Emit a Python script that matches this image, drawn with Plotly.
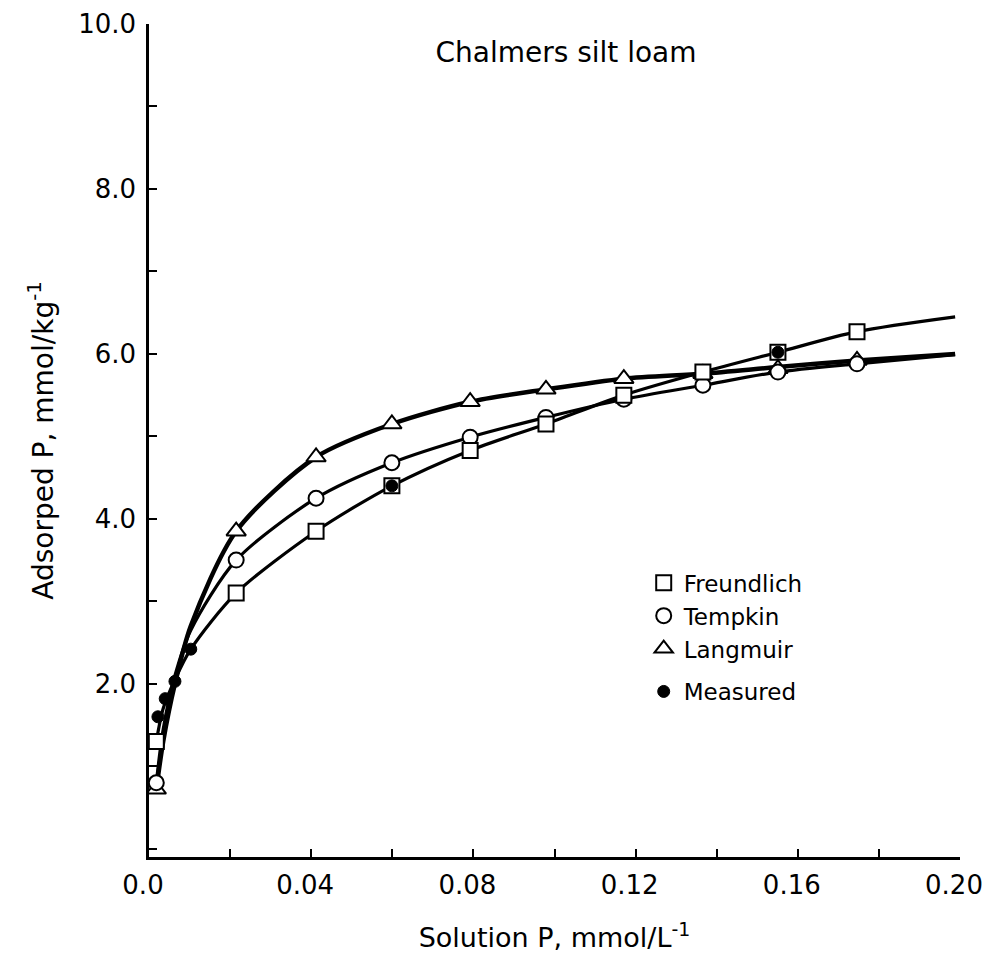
import plotly.graph_objects as go

# ---- data ----
model_x = [0.0018, 0.0215, 0.0412, 0.0599, 0.0792, 0.0979, 0.1171, 0.1366, 0.1551, 0.1746]
freundlich_y = [1.30, 3.10, 3.85, 4.40, 4.83, 5.15, 5.50, 5.78, 6.02, 6.27]
tempkin_y = [0.80, 3.50, 4.25, 4.68, 4.99, 5.23, 5.45, 5.62, 5.78, 5.88]
langmuir_y = [0.72, 3.85, 4.75, 5.15, 5.42, 5.57, 5.70, 5.76, 5.82, 5.92]

curve_x = [0.0018, 0.0035, 0.0064, 0.0103, 0.0215, 0.0412, 0.0599, 0.0792, 0.0979,
           0.1171, 0.1366, 0.1551, 0.1746, 0.1988]
freundlich_curve = [1.30, 1.70, 2.05, 2.42, 3.10, 3.85, 4.40, 4.83, 5.15, 5.50, 5.78, 6.02, 6.27, 6.45]
tempkin_curve = [0.80, 1.45, 2.10, 2.65, 3.50, 4.25, 4.68, 4.99, 5.23, 5.45, 5.62, 5.78, 5.88, 5.99]
langmuir_curve = [0.72, 1.30, 2.00, 2.70, 3.85, 4.75, 5.15, 5.42, 5.57, 5.70, 5.76, 5.84, 5.92, 6.00]

measured_x = [0.0022, 0.0040, 0.0064, 0.0103, 0.0599, 0.1551]
measured_y = [1.60, 1.82, 2.03, 2.42, 4.40, 6.02]

x_tick_vals = [0.0, 0.04, 0.08, 0.12, 0.16, 0.20]
x_tick_text = ["0.0", "0.04", "0.08", "0.12", "0.16", "0.20"]
y_tick_vals = [2, 4, 6, 8, 10]
y_tick_text = ["2.0", "4.0", "6.0", "8.0", "10.0"]

FONT = "DejaVu Sans"

fig = go.Figure()

# curves (no legend)
for cy, w in [(langmuir_curve, 4.5), (tempkin_curve, 3.2), (freundlich_curve, 3.2)]:
    fig.add_trace(go.Scatter(x=curve_x, y=cy, mode="lines",
                             line=dict(color="black", width=w, shape="spline", smoothing=0.8),
                             showlegend=False, hoverinfo="skip"))

marker_line = dict(color="black", width=2)
fig.add_trace(go.Scatter(x=model_x, y=langmuir_y, mode="markers", name="Langmuir",
                         marker=dict(symbol="triangle-up", size=17, color="white", line=marker_line),
                         legendgroup="models", legendrank=3))
fig.add_trace(go.Scatter(x=model_x, y=tempkin_y, mode="markers", name="Tempkin",
                         marker=dict(symbol="circle", size=15, color="white", line=marker_line),
                         legendgroup="models", legendrank=2))
fig.add_trace(go.Scatter(x=model_x, y=freundlich_y, mode="markers", name="Freundlich",
                         marker=dict(symbol="square", size=15, color="white", line=marker_line),
                         legendgroup="models", legendrank=1))
fig.add_trace(go.Scatter(x=measured_x, y=measured_y, mode="markers", name="Measured",
                         marker=dict(symbol="circle", size=12, color="black", line=dict(color="black", width=1)),
                         legendgroup="measured", legendrank=4))

axis_common = dict(showline=True, linecolor="black", linewidth=2.5, showgrid=False, zeroline=False,
                   ticks="inside", ticklen=8, tickwidth=2, tickcolor="black",
                   tickfont=dict(family=FONT, size=26, color="black"))

fig.update_xaxes(range=[0, 0.20], tickvals=x_tick_vals, ticktext=x_tick_text,
                 minor=dict(dtick=0.02, tick0=0, ticks="inside", ticklen=8, tickwidth=2, tickcolor="black"),
                 ticklabelstandoff=3, ticklabelshift=-6, ticklabeloverflow="allow",
                 title=dict(text="Solution P, mmol/L<sup>-1</sup>", font=dict(family=FONT, size=27, color="black"),
                            standoff=30),
                 **axis_common)
fig.update_yaxes(range=[-0.1, 10.0], tickvals=y_tick_vals, ticktext=y_tick_text,
                 minor=dict(dtick=1, tick0=0, ticks="inside", ticklen=8, tickwidth=2, tickcolor="black"),
                 ticklabelstandoff=5,
                 title=dict(text="Adsorped P, mmol/kg<sup>-1</sup>", font=dict(family=FONT, size=28, color="black"),
                            standoff=17),
                 **axis_common)

fig.update_layout(
    width=985, height=960,
    margin=dict(l=141, r=33, t=16, b=111, autoexpand=False),
    paper_bgcolor="white", plot_bgcolor="white",
    title=dict(text="Chalmers silt loam", x=558 / 985, y=1 - 44 / 960, xanchor="center", yanchor="middle",
               font=dict(family=FONT, size=28, color="black")),
    legend=dict(x=0.610, y=0.355, xanchor="left", yanchor="top", font=dict(family=FONT, size=23, color="black"),
                bgcolor="rgba(0,0,0,0)", tracegroupgap=10, itemwidth=30),
    showlegend=True,
)

fig.write_html("out.html")
